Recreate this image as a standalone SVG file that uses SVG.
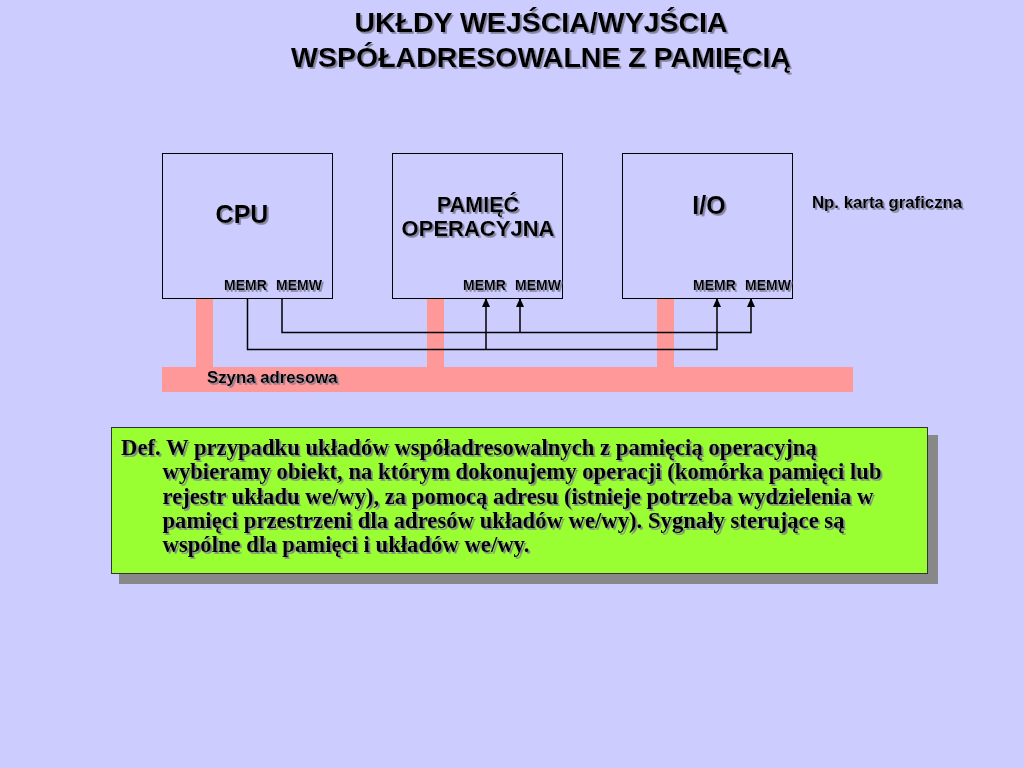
<svg xmlns="http://www.w3.org/2000/svg" width="1024" height="768" viewBox="0 0 1024 768">
  <defs>
    <filter id="ts" x="-5%" y="-20%" width="110%" height="150%">
      <feDropShadow dx="1.8" dy="1.8" stdDeviation="0.6" flood-color="#7a7a90" flood-opacity="0.9"/>
    </filter>
    <marker id="arr" viewBox="0 0 10 10" refX="9" refY="5" markerWidth="9" markerHeight="9" orient="auto" markerUnits="userSpaceOnUse">
      <path d="M0,0.5 L10,5 L0,9.5 z" fill="#000"/>
    </marker>
  </defs>
  <style>
    .sans { font-family: "Liberation Sans", Arial, sans-serif; font-weight: bold; fill: #000; }
    .serif { font-family: "Liberation Serif", "Times New Roman", serif; font-weight: bold; fill: #000; font-size: 22.7px; }
    .box { fill: none; stroke: #000; stroke-width: 1; }
    .bus { fill: #FF9999; }
    .wire { fill: none; stroke: #000; stroke-width: 1.5; }
  </style>
  <rect x="0" y="0" width="1024" height="768" fill="#CCCCFF"/>

  <g id="title" filter="url(#ts)">
    <text class="sans" x="541" y="32" font-size="28.5" text-anchor="middle">UKŁDY WEJŚCIA/WYJŚCIA</text>
    <text class="sans" x="541" y="67" font-size="28.5" text-anchor="middle">WSPÓŁADRESOWALNE Z PAMIĘCIĄ</text>
  </g>

  <g id="bus">
    <rect class="bus" x="196" y="298" width="17" height="70"/>
    <rect class="bus" x="427" y="298" width="17" height="70"/>
    <rect class="bus" x="657" y="298" width="17" height="70"/>
    <rect class="bus" x="162" y="367" width="691" height="25"/>
    <text class="sans" x="207" y="383" font-size="16.8" filter="url(#ts)">Szyna adresowa</text>
  </g>

  <g id="cpu">
    <rect class="box" x="162.5" y="153.5" width="170" height="145"/>
    <g filter="url(#ts)">
      <text class="sans" x="242" y="223" font-size="25" text-anchor="middle">CPU</text>
      <text class="sans" x="224" y="290" font-size="14">MEMR</text>
      <text class="sans" x="276" y="290" font-size="14">MEMW</text>
    </g>
  </g>

  <g id="memory">
    <rect class="box" x="392.5" y="153.5" width="170" height="145"/>
    <g filter="url(#ts)">
      <text class="sans" x="478" y="212" font-size="21.5" text-anchor="middle">PAMIĘĆ</text>
      <text class="sans" x="478" y="235.5" font-size="22" text-anchor="middle">OPERACYJNA</text>
      <text class="sans" x="463" y="290" font-size="14">MEMR</text>
      <text class="sans" x="515" y="290" font-size="14">MEMW</text>
    </g>
  </g>

  <g id="io">
    <rect class="box" x="622.5" y="153.5" width="170" height="145"/>
    <g filter="url(#ts)">
      <text class="sans" x="709" y="214" font-size="25" text-anchor="middle">I/O</text>
      <text class="sans" x="693" y="290" font-size="14">MEMR</text>
      <text class="sans" x="745" y="290" font-size="14">MEMW</text>
    </g>
  </g>

  <g id="note">
    <text class="sans" x="812" y="208" font-size="16.8" filter="url(#ts)">Np. karta graficzna</text>
  </g>

  <g id="connectors">
    <polyline class="wire" points="247.5,298 247.5,349.5 717,349.5"/>
    <polyline class="wire" points="282,298 282,332.5 751,332.5"/>
    <line class="wire" x1="486" y1="349.5" x2="486" y2="299" marker-end="url(#arr)"/>
    <line class="wire" x1="520" y1="332.5" x2="520" y2="299" marker-end="url(#arr)"/>
    <line class="wire" x1="717" y1="350.2" x2="717" y2="299" marker-end="url(#arr)"/>
    <line class="wire" x1="751" y1="333.2" x2="751" y2="299" marker-end="url(#arr)"/>
  </g>

  <g id="definition">
    <rect x="119" y="435" width="819" height="149" fill="#888888"/>
    <rect x="111.5" y="427.5" width="816" height="146" fill="#99FF33" stroke="#333" stroke-width="1"/>
    <g filter="url(#ts)">
      <text class="serif" x="121" y="455">Def. W przypadku układów współadresowalnych z pamięcią operacyjną</text>
      <text class="serif" x="162.5" y="479.3">wybieramy obiekt, na którym dokonujemy operacji (komórka pamięci lub</text>
      <text class="serif" x="162.5" y="503.6">rejestr układu we/wy), za pomocą adresu (istnieje potrzeba wydzielenia w</text>
      <text class="serif" x="162.5" y="527.9">pamięci przestrzeni dla adresów układów we/wy). Sygnały sterujące są</text>
      <text class="serif" x="162.5" y="552.2">wspólne dla pamięci i układów we/wy.</text>
    </g>
  </g>
</svg>
